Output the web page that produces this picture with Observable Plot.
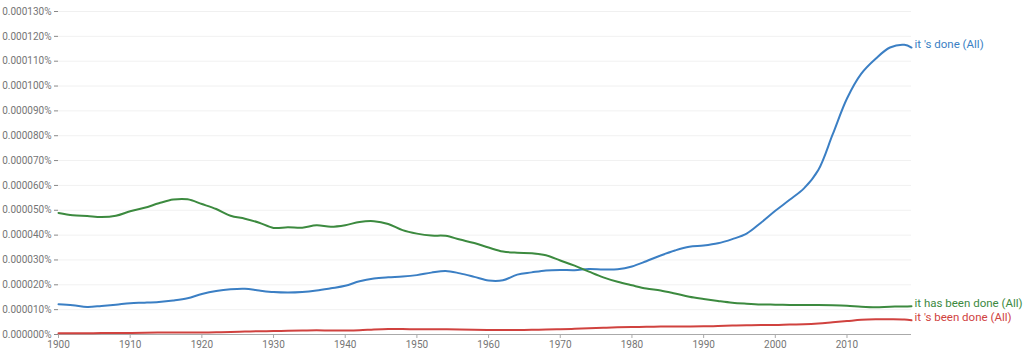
<!DOCTYPE html>
<html><head><meta charset="utf-8">
<script src="https://cdn.jsdelivr.net/npm/d3@7"></script>
<script src="https://cdn.jsdelivr.net/npm/@observablehq/plot@0.6"></script>
<style>body{margin:0;background:#fff;font-family:Roboto,sans-serif}</style>
</head><body><div id="chart"></div>
<script>
// Values are in units of 0.00001 % (tick "0.000010%" = 1)
const years = [1900,1902,1904,1906,1908,1910,1912,1914,1916,1918,1920,1922,1924,1926,1928,1930,1932,1934,1936,1938,1940,1942,1944,1946,1948,1950,1952,1954,1956,1958,1960,1962,1964,1966,1968,1970,1972,1974,1976,1978,1980,1982,1984,1986,1988,1990,1992,1994,1996,1998,2000,2002,2004,2006,2008,2010,2012,2014,2016,2018,2019];
const itsDone = [1.22,1.18,1.11,1.15,1.20,1.26,1.28,1.31,1.37,1.46,1.63,1.75,1.82,1.84,1.77,1.71,1.69,1.71,1.77,1.86,1.96,2.14,2.25,2.30,2.33,2.39,2.49,2.56,2.46,2.32,2.17,2.18,2.41,2.50,2.58,2.60,2.59,2.64,2.62,2.63,2.74,2.95,3.18,3.38,3.53,3.58,3.67,3.84,4.06,4.50,4.98,5.42,5.88,6.62,8.05,9.50,10.50,11.10,11.55,11.66,11.55];
const itHasBeenDone = [4.89,4.80,4.77,4.73,4.78,4.96,5.10,5.28,5.43,5.44,5.25,5.05,4.78,4.66,4.50,4.29,4.32,4.30,4.40,4.34,4.40,4.53,4.56,4.45,4.20,4.06,3.98,3.97,3.82,3.68,3.50,3.34,3.29,3.27,3.19,2.98,2.77,2.53,2.30,2.12,1.98,1.85,1.77,1.65,1.52,1.43,1.35,1.28,1.24,1.21,1.20,1.19,1.19,1.19,1.18,1.16,1.12,1.10,1.12,1.13,1.14];
const itsBeenDone = [0.05,0.05,0.05,0.06,0.06,0.06,0.07,0.08,0.08,0.08,0.08,0.09,0.10,0.12,0.13,0.14,0.15,0.16,0.17,0.16,0.16,0.17,0.20,0.22,0.22,0.21,0.21,0.21,0.20,0.19,0.18,0.18,0.18,0.19,0.20,0.21,0.23,0.25,0.27,0.29,0.30,0.31,0.32,0.32,0.32,0.33,0.34,0.36,0.37,0.38,0.38,0.40,0.41,0.44,0.49,0.54,0.59,0.61,0.61,0.60,0.57];
const seriesNames = ["it 's done (All)", "it has been done (All)", "it 's been done (All)"];
const seriesColors = ["#3b7fc4", "#3c8a3f", "#d0423f"];
const yTicks = [0,1,2,3,4,5,6,7,8,9,10,11,12,13];
const xTicks = [1900,1910,1920,1930,1940,1950,1960,1970,1980,1990,2000,2010];

const rows = [];
[itsDone, itHasBeenDone, itsBeenDone].forEach((vals, i) =>
  vals.forEach((v, j) => rows.push({series: seriesNames[i], year: years[j], value: v})));
const last = seriesNames.map(s => rows.filter(r => r.series === s).at(-1));

const chart = Plot.plot({
  width: 1024, height: 352,
  marginTop: 11, marginBottom: 18, marginLeft: 58, marginRight: 113,
  style: {fontFamily: "Roboto, sans-serif", fontSize: "10px", color: "#757575", background: "#fff", overflow: "visible"},
  x: {domain: [1900, 2019]},
  y: {domain: [0, 13]},
  color: {domain: seriesNames, range: seriesColors},
  marks: [
    Plot.gridY(yTicks, {stroke: "#000", strokeOpacity: 0.06}),
    Plot.axisY(yTicks, {tickSize: 4, tickPadding: 3, tickFormat: d => (d * 1e-5).toFixed(6) + "%", stroke: "#888", label: null}),
    Plot.ruleY([0], {stroke: "#aaa"}),
    Plot.axisX(xTicks, {tickSize: 4, tickPadding: 2, tickFormat: d => String(d), stroke: "#aaa", label: null}),
    Plot.lineY(rows, {x: "year", y: "value", stroke: "series", strokeWidth: 2, curve: "catmull-rom"}),
    Plot.text(last, {x: "year", y: "value", text: "series", fill: "series", textAnchor: "start", dx: 3, dy: -3, fontSize: 11.5})
  ]
});
document.getElementById("chart").appendChild(chart);
</script>
</body></html>
